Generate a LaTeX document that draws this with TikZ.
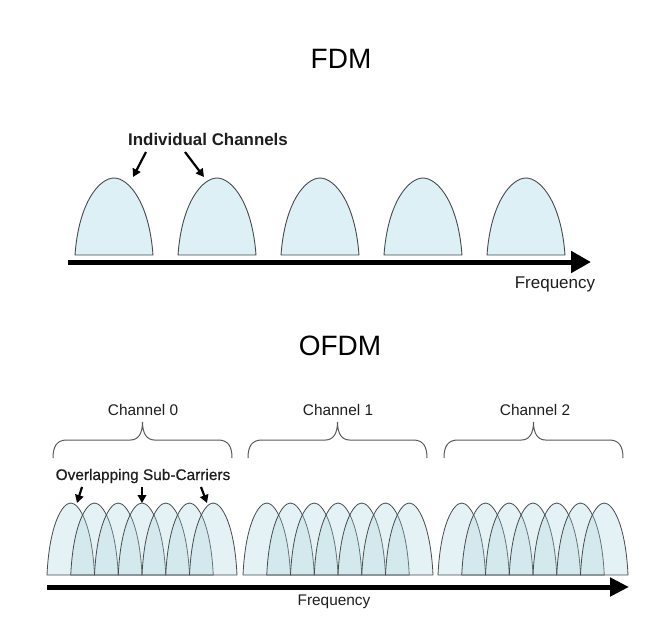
\documentclass[tikz,border=0pt]{standalone}
\usepackage{fontspec}
\setmainfont{Liberation Sans}
\usetikzlibrary{arrows.meta}
\definecolor{fdmfill}{RGB}{221,240,245}
\definecolor{ofdmfill}{RGB}{170,215,224}
\definecolor{edge}{RGB}{70,75,78}
\definecolor{bracec}{RGB}{90,90,90}
\definecolor{txt}{RGB}{30,30,30}
\tikzset{pics/lobe/.style 2 args={code={
  \path[pic actions] (0,0) .. controls (0.05*#1,-0.7*#2) and (0.32*#1,-#2) .. (0.5*#1,-#2)
     .. controls (0.68*#1,-#2) and (0.95*#1,-0.7*#2) .. (#1,0) -- cycle;}}}
\begin{document}
\begin{tikzpicture}[x=1pt,y=-1pt,
  fdmlobe/.style={draw=edge, line width=0.9pt, fill=fdmfill},
  ofdmlobe/.style={draw=edge, line width=0.8pt, fill=ofdmfill, fill opacity=0.3},
  axisline/.style={line width=5pt, -{Triangle[length=20pt,width=21pt]}},
  pointer/.style={line width=2.2pt, -{Triangle[length=8pt,width=8.5pt]}},
  bracestyle/.style={draw=bracec, line width=1pt},
  title/.style={anchor=base, inner sep=0pt, font=\fontsize{28}{30}\selectfont},
  label/.style={anchor=base, inner sep=0pt, text=txt, font=\fontsize{15.4}{17}\selectfont},
]
\useasboundingbox[fill=white] (0,0) rectangle (662,630);

% ---------------- FDM ----------------
\node[title] (fdm) at (341,68) {FDM};
\node[label, font=\fontsize{16.9}{18}\selectfont\bfseries] (indiv) at (208,145) {Individual Channels};

\foreach \x in {75,178,281,384,487}
  \pic[fdmlobe] at (\x,255) {lobe={78}{77}};

\coordinate (fa0) at (68,262);
\coordinate (fa1) at (591,262);
\draw[axisline] (fa0) -- (fa1);
\node[label, font=\fontsize{17}{18}\selectfont] (freq1) at (555,288) {Frequency};

\coordinate (ia1) at (146,152);
\coordinate (ib1) at (133,177);
\coordinate (ia2) at (185,152);
\coordinate (ib2) at (204,177);
\draw[pointer] (ia1) -- (ib1);
\draw[pointer] (ia2) -- (ib2);

% ---------------- OFDM ----------------
\node[title] (ofdm) at (340,355) {OFDM};

\node[label] (ch0) at (143,415) {Channel 0};
\node[label] (ch1) at (338,415) {Channel 1};
\node[label] (ch2) at (535,415) {Channel 2};

\foreach \a/\b in {53/232, 248/427, 444/623}{
  \pgfmathsetmacro{\m}{(\a+\b)/2}
  \draw[bracestyle] (\a,458) .. controls (\a,446) and (\a+4,440) .. (\a+14,440)
     -- (\m-12,440) .. controls (\m-4,440) and (\m,433) .. (\m,422)
     .. controls (\m,433) and (\m+4,440) .. (\m+12,440)
     -- (\b-14,440) .. controls (\b-4,440) and (\b,446) .. (\b,458);
}

\node[label, font=\fontsize{15.4}{17}\selectfont\addfontfeature{FakeBold=0.6}] (over) at (143,480) {Overlapping Sub-Carriers};

\foreach \s in {47,243,438}
  \foreach \k in {0,...,6}
    \pic[ofdmlobe] at (\s+23.75*\k,575) {lobe={47.5}{72}};

\coordinate (oa0) at (47,587);
\coordinate (oa1) at (629,587);
\draw[axisline, -{Triangle[length=19pt,width=18pt]}] (oa0) -- (oa1);
\node[label] (freq2) at (334,605) {Frequency};

\coordinate (oa1s) at (82,487);
\coordinate (ob1s) at (77,503);
\coordinate (oa2s) at (142,487);
\coordinate (ob2s) at (142,503);
\coordinate (oa3s) at (201,487);
\coordinate (ob3s) at (207,503);
\draw[pointer] (oa1s) -- (ob1s);
\draw[pointer] (oa2s) -- (ob2s);
\draw[pointer] (oa3s) -- (ob3s);
\end{tikzpicture}
\end{document}
